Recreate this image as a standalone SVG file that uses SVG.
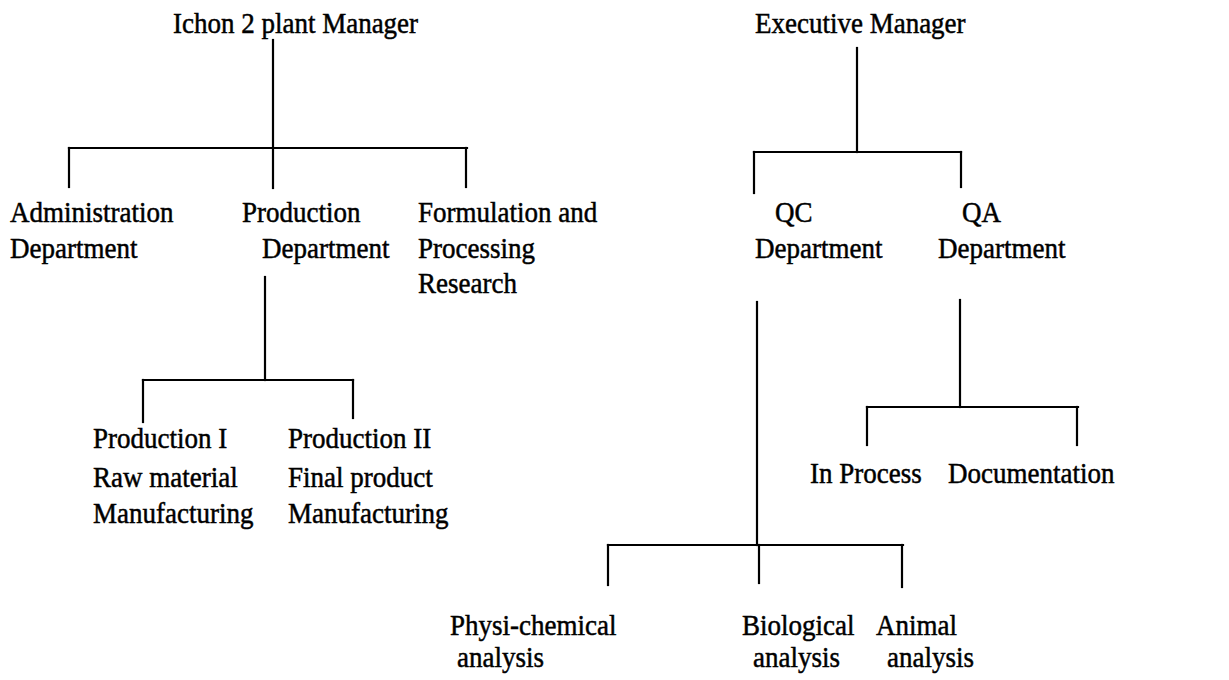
<svg xmlns="http://www.w3.org/2000/svg" width="1229" height="680" viewBox="0 0 1229 680">
<style>
text{font-family:"Liberation Serif","Times New Roman",serif;font-size:27px;fill:#000;stroke:#000;stroke-width:0.45}
.c line{stroke:#000;stroke-width:2.2;stroke-linecap:square}
</style>
<rect width="1229" height="680" fill="#fff"/>
<g class="c" id="connectors">
<line x1="273" y1="40" x2="273" y2="188"/>
<line x1="69" y1="148" x2="467" y2="148"/>
<line x1="69" y1="148" x2="69" y2="187"/>
<line x1="466" y1="148" x2="466" y2="187"/>
<line x1="265" y1="277" x2="265" y2="380"/>
<line x1="143" y1="380" x2="353" y2="380"/>
<line x1="143" y1="380" x2="143" y2="422"/>
<line x1="353" y1="380" x2="353" y2="418"/>
<line x1="857" y1="48" x2="857" y2="152"/>
<line x1="754" y1="152" x2="961" y2="152"/>
<line x1="754" y1="152" x2="754" y2="193"/>
<line x1="961" y1="152" x2="961" y2="187"/>
<line x1="757" y1="302" x2="757" y2="545"/>
<line x1="608" y1="545" x2="903" y2="545"/>
<line x1="608" y1="545" x2="608" y2="585"/>
<line x1="759" y1="545" x2="759" y2="583"/>
<line x1="902" y1="545" x2="902" y2="587"/>
<line x1="960" y1="300" x2="960" y2="407"/>
<line x1="867" y1="407" x2="1078" y2="407"/>
<line x1="867" y1="407" x2="867" y2="445"/>
<line x1="1077" y1="407" x2="1077" y2="445"/>
</g>
<g id="labels" transform="scale(1,1.1)">
<g id="ichon"><text x="173" y="30">Ichon 2 plant Manager</text></g>
<g id="admin"><text x="10" y="201.8">Administration</text><text x="10" y="234.5">Department</text></g>
<g id="production"><text x="242" y="201.8">Production</text><text x="262" y="234.5">Department</text></g>
<g id="formulation"><text x="418" y="201.8">Formulation and</text><text x="418" y="234.5">Processing</text><text x="418" y="266.4">Research</text></g>
<g id="prod1"><text x="93" y="407.3">Production I</text><text x="93" y="442.7">Raw material</text><text x="93" y="475.5">Manufacturing</text></g>
<g id="prod2"><text x="288" y="407.3">Production II</text><text x="288" y="442.7">Final product</text><text x="288" y="475.5">Manufacturing</text></g>
<g id="executive"><text x="755" y="30">Executive Manager</text></g>
<g id="qc"><text x="775" y="201.8">QC</text><text x="755" y="234.5">Department</text></g>
<g id="qa"><text x="962" y="201.8">QA</text><text x="938" y="234.5">Department</text></g>
<g id="inprocess"><text x="810" y="439.1">In Process</text></g>
<g id="documentation"><text x="948" y="439.1">Documentation</text></g>
<g id="physi"><text x="450" y="577.3">Physi-chemical</text><text x="457" y="606.4">analysis</text></g>
<g id="bio"><text x="742" y="577.3">Biological</text><text x="753" y="606.4">analysis</text></g>
<g id="animal"><text x="876" y="577.3">Animal</text><text x="887" y="606.4">analysis</text></g>
</g>
</svg>
